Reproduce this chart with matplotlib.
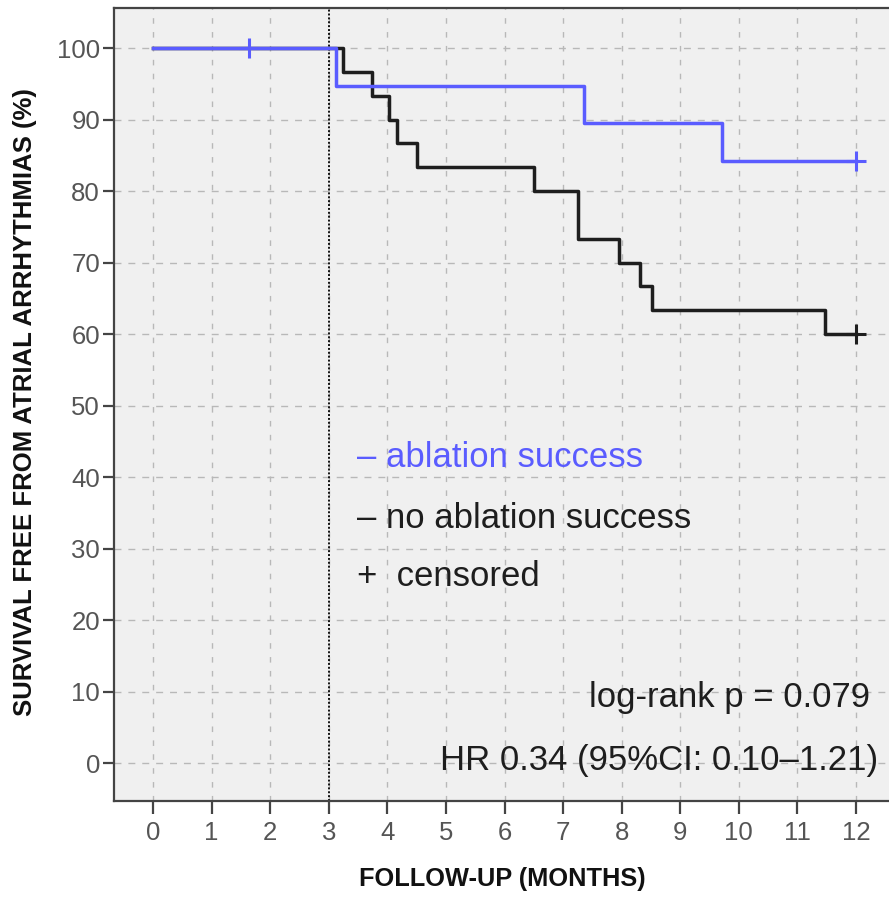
import matplotlib
matplotlib.use("Agg")
import matplotlib.pyplot as plt

plt.rcParams['font.family'] = ['Liberation Sans', 'DejaVu Sans']

# Data
months = list(range(0, 13))
yticks = list(range(0, 101, 10))

success_t = [0, 3.12, 7.36, 9.72, 12]
success_s = [100, 94.7, 89.5, 84.2, 84.2]
success_cens_t = [1.64, 12]
success_cens_s = [100, 84.2]

fail_t = [0, 3.25, 3.74, 4.03, 4.17, 4.51, 6.5, 7.26, 7.95, 8.31, 8.52, 11.47, 12]
fail_s = [100, 96.7, 93.3, 90.0, 86.7, 83.3, 80.0, 73.3, 70.0, 66.7, 63.3, 60.0, 60.0]
fail_cens_t = [12]
fail_cens_s = [60.0]

blanking_month = 3

BLUE = '#5a5cff'
BLACK = '#1e1e1e'
W, H = 889, 898

fig = plt.figure(figsize=(W / 100, H / 100), dpi=100)
ax = fig.add_axes([114 / W, (H - 801) / H, (889 - 114) / W, (801 - 8) / H])
ax.set_facecolor('#f0f0f0')

ax.set_xlim(-0.666, 12.563)
ax.set_ylim(-5.31, 105.6)

ax.set_xticks(months)
ax.set_yticks(yticks)
ax.grid(True, axis='y', color='#b8b8b8', linestyle=(0, (5, 5)), linewidth=1.0)
ax.grid(True, axis='x', color='#b8b8b8', linestyle=(0, (4, 6)), linewidth=1.0)
ax.set_axisbelow(True)

ax.step(fail_t, fail_s, where='post', color=BLACK, linewidth=2.5, zorder=3)
ax.step(success_t, success_s, where='post', color=BLUE, linewidth=2.5, zorder=4)
ax.plot(fail_cens_t, fail_cens_s, linestyle='none', marker='+', markersize=14,
        markeredgewidth=2.2, color=BLACK, zorder=5)
ax.plot(success_cens_t, success_cens_s, linestyle='none', marker='+', markersize=14,
        markeredgewidth=2.2, color=BLUE, zorder=5)

ax.axvline(blanking_month, color='#111111', linestyle=(0, (1, 1)), linewidth=1.4, zorder=2)

for s in ['left', 'bottom', 'top']:
    ax.spines[s].set_color('#444444')
    ax.spines[s].set_linewidth(1.6)
ax.spines['right'].set_visible(False)

ax.tick_params(axis='both', colors='#444444', labelcolor='#555555', labelsize=18.5,
               width=1.6)
ax.tick_params(axis='y', length=8, pad=2)
ax.tick_params(axis='x', length=9.5, pad=5)

ax.set_xlabel('FOLLOW-UP (MONTHS)', fontsize=18.3, fontweight='bold', color='#111111')
ax.set_ylabel('SURVIVAL FREE FROM ATRIAL ARRHYTHMIAS (%)', fontsize=18.5,
              fontweight='bold', color='#111111')
ax.xaxis.set_label_coords((502 - 114) / 775, (801 - 879) / 793)
ax.xaxis.label.set_va('center')
ax.yaxis.set_label_coords((25 - 114) / 775, (801 - 402.5) / 793)
ax.yaxis.label.set_va('center')

ax.text(3.48, 41.4, '– ablation success', color=BLUE, fontsize=25, va='baseline', ha='left')
ax.text(3.48, 32.9, '– no ablation success', color=BLACK, fontsize=25, va='baseline', ha='left')
ax.text(3.48, 24.7, '+  censored', color=BLACK, fontsize=25, va='baseline', ha='left')
ax.text(12.24, 7.9, 'log-rank p = 0.079', color=BLACK, fontsize=25, va='baseline', ha='right')
ax.text(12.37, -1.0, 'HR 0.34 (95%CI: 0.10–1.21)', color=BLACK, fontsize=25,
        va='baseline', ha='right')

fig.savefig('out.png', dpi=100)
